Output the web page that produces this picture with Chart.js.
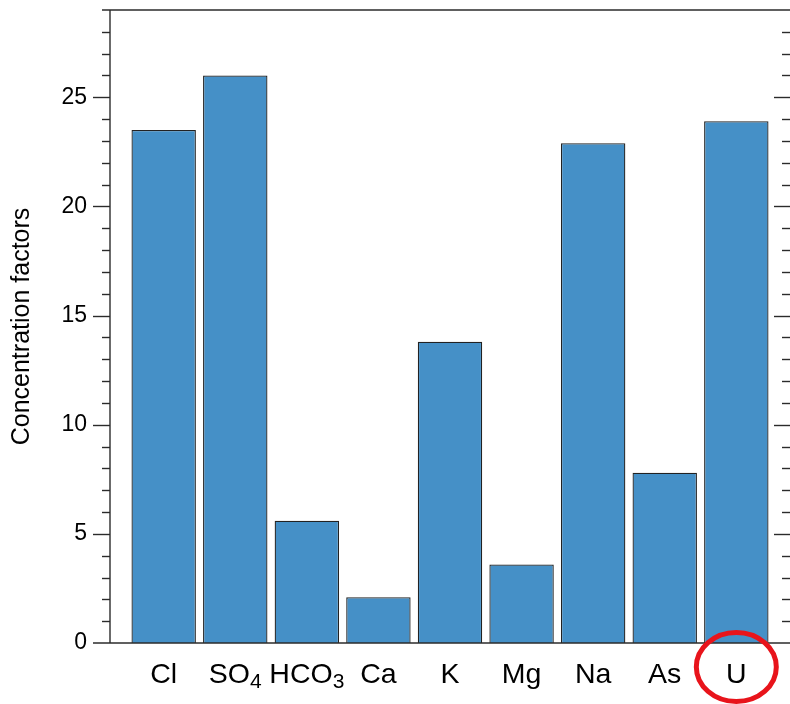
<!DOCTYPE html>
<html>
<head>
<meta charset="utf-8">
<script src="https://cdn.jsdelivr.net/npm/chart.js@4/dist/chart.umd.min.js"></script>
<style>
  html, body { margin: 0; padding: 0; background: #fff; }
  #wrap { width: 790px; height: 704px; }
</style>
</head>
<body>
<div id="wrap"><canvas id="c" width="790" height="704"></canvas></div>
<script>
const categories = ['Cl', 'SO₄', 'HCO₃', 'Ca', 'K', 'Mg', 'Na', 'As', 'U'];
const concentrationFactors = [23.5, 26.0, 5.6, 2.1, 13.8, 3.6, 22.9, 7.8, 23.9];
const yTickValues = [0, 5, 10, 15, 20, 25];
const yMinorTickValues = [0, 1, 2, 3, 4, 5, 6, 7, 8, 9, 10, 11, 12, 13, 14, 15, 16, 17, 18, 19, 20, 21, 22, 23, 24, 25, 26, 27, 28, 29];
const highlightedCategory = 'U';
const yTitle = 'Concentration factors';

const FONT = "'Liberation Sans', Arial, Helvetica, sans-serif";
const SUB = {'₀':'0','₁':'1','₂':'2','₃':'3','₄':'4','₅':'5','₆':'6','₇':'7','₈':'8','₉':'9'};

const framePlugin = {
  id: 'frame',
  afterDraw(chart) {
    const {ctx, chartArea: {left, right, top, bottom}, scales: {x, y}} = chart;
    ctx.save();
    ctx.strokeStyle = '#2b2b2b';
    ctx.lineWidth = 1.4;
    ctx.lineCap = 'butt';
    const ln = (x1, y1, x2, y2) => { ctx.beginPath(); ctx.moveTo(x1, y1); ctx.lineTo(x2, y2); ctx.stroke(); };
    // frame lines
    ln(left, top, left, bottom);
    ln(left - 17, bottom, right, bottom);
    ln(left - 8, top, right, top);
    // ticks left and right
    yMinorTickValues.forEach(v => {
      const py = Math.round(y.getPixelForValue(v)) + 0.5;
      const major = yTickValues.includes(v);
      if (v > 0 && v < 29) {
        ln(left - (major ? 17 : 8), py, left, py);
        ln(right - (major ? 16 : 8), py, right, py);
      }
    });
    // x labels with subscripts
    ctx.fillStyle = '#000';
    ctx.textBaseline = 'alphabetic';
    ctx.textAlign = 'left';
    categories.forEach((lab, i) => {
      const parts = [];
      for (const ch of lab) {
        const sub = SUB[ch] !== undefined;
        const t = sub ? SUB[ch] : ch;
        if (parts.length && parts[parts.length - 1].sub === sub) parts[parts.length - 1].t += t;
        else parts.push({t, sub});
      }
      let total = 0;
      parts.forEach(p => { ctx.font = (p.sub ? '21px ' : '28.5px ') + FONT; p.w = ctx.measureText(p.t).width; total += p.w; });
      let cx = x.getPixelForValue(i) - total / 2;
      parts.forEach(p => {
        ctx.font = (p.sub ? '21px ' : '28.5px ') + FONT;
        ctx.fillText(p.t, cx, bottom + 40 + (p.sub ? 5 : 0));
        cx += p.w;
      });
    });
    // highlight ellipse
    const hi = categories.indexOf(highlightedCategory);
    ctx.strokeStyle = '#e8141b';
    ctx.lineWidth = 5;
    ctx.beginPath();
    ctx.ellipse(x.getPixelForValue(hi), bottom + 24, 40, 34.5, 0, 0, Math.PI * 2);
    ctx.stroke();
    ctx.restore();
  }
};

new Chart(document.getElementById('c'), {
  type: 'bar',
  data: {
    datasets: [{
      data: categories.map((c, i) => ({x: i, y: concentrationFactors[i]})),
      backgroundColor: '#4590c7',
      borderColor: '#222222',
      borderWidth: 1.3,
      categoryPercentage: 0.9,
      barPercentage: 1.0
    }]
  },
  options: {
    responsive: false,
    animation: false,
    layout: { padding: { top: 10, right: 0, left: 0, bottom: 0 } },
    plugins: { legend: { display: false }, tooltip: { enabled: false } },
    scales: {
      x: {
        type: 'linear',
        offset: false,
        min: -0.75,
        max: 8.75,
        afterBuildTicks: s => { s.ticks = categories.map((c, i) => ({value: i})); },
        afterFit: s => { s.height = 61; s.paddingLeft = 0; s.paddingRight = 0; s.paddingTop = 0; s.paddingBottom = 0; },
        ticks: { display: false },
        grid: { display: false },
        border: { display: false }
      },
      y: {
        min: 0,
        max: 29,
        afterBuildTicks: s => { s.ticks = yTickValues.map(v => ({value: v})); },
        afterFit: s => { s.width = 110; s.paddingTop = 0; s.paddingBottom = 0; s.paddingLeft = 0; s.paddingRight = 0; },
        ticks: { color: '#000', font: { family: FONT, size: 23 }, padding: 23, autoSkip: false },
        grid: { display: false, drawTicks: false },
        border: { display: false },
        title: { display: true, text: yTitle, color: '#000', font: { family: FONT, size: 25 }, padding: { top: 7, bottom: 0 } }
      }
    }
  },
  plugins: [framePlugin]
});
</script>
</body>
</html>
